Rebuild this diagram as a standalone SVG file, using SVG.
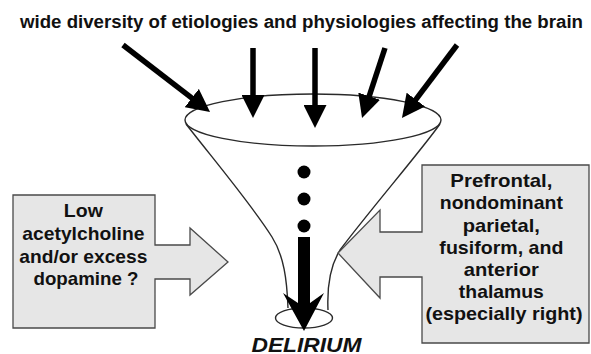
<svg xmlns="http://www.w3.org/2000/svg" width="591" height="354" viewBox="0 0 591 354">
  <style>
    .lbl { font-family: "Liberation Sans", Arial, Helvetica, sans-serif; font-weight: bold; fill: #111; text-anchor: middle; }
    .box { fill: #e6e6e6; stroke: #4a4a4a; stroke-width: 1.3; stroke-linejoin: miter; }
    .funnel { fill: none; stroke: #2a2a2a; stroke-width: 1.4; }
    .flow { stroke: #000; stroke-width: 5.5; fill: none; marker-end: url(#head); }
  </style>
  <defs>
    <marker id="head" markerUnits="userSpaceOnUse" markerWidth="23" markerHeight="23" viewBox="0 0 23 23" refX="1" refY="11.5" orient="auto">
      <path d="M0,0 L23,11.5 L0,23 Z" fill="#000"/>
    </marker>
  </defs>

  <rect width="591" height="354" fill="#fff"/>

  <!-- heading -->
  <g id="title">
    <text class="lbl" x="301.5" y="28" font-size="17.5" textLength="563" lengthAdjust="spacingAndGlyphs">wide diversity of etiologies and physiologies affecting the brain</text>
  </g>

  <!-- funnel: rim, body, neck opening and dots -->
  <g id="funnel">
    <path class="funnel" d="M186,124 C214,160 252,205 272,237 C284,256 287,280 288,308"/>
    <path class="funnel" d="M440,124 C420,152 370,210 340,250 C330,266 327,288 328,310"/>
    <ellipse class="funnel" cx="313" cy="120" rx="128" ry="26" fill="#fff"/>
    <ellipse class="funnel" cx="304" cy="318" rx="28.5" ry="10"/>
    <circle cx="304" cy="172" r="6.5" fill="#000"/>
    <circle cx="304" cy="199" r="6.5" fill="#000"/>
    <circle cx="304" cy="226" r="6.5" fill="#000"/>
  </g>

  <!-- left block arrow -->
  <g id="neurotransmitters">
    <path class="box" d="M13,195 H155 V245 H190 V228 L228,262 L190,295 V279 H155 V328 H13 Z"/>
    <text class="lbl" font-size="19">
      <tspan x="86" y="217" textLength="39" lengthAdjust="spacingAndGlyphs">Low</tspan>
      <tspan x="86" y="240" textLength="122" lengthAdjust="spacingAndGlyphs">acetylcholine</tspan>
      <tspan x="86" y="263" textLength="128" lengthAdjust="spacingAndGlyphs">and/or excess</tspan>
      <tspan x="86" y="285" textLength="105" lengthAdjust="spacingAndGlyphs">dopamine ?</tspan>
    </text>
  </g>

  <!-- right block arrow -->
  <g id="regions">
    <path class="box" d="M422,165 H589 V343 H422 V277 H380 V298 L338,253 L380,210 V232 H422 Z"/>
    <text class="lbl" font-size="19">
      <tspan x="504" y="187" textLength="102" lengthAdjust="spacingAndGlyphs">Prefrontal,</tspan>
      <tspan x="504" y="209" textLength="123" lengthAdjust="spacingAndGlyphs">nondominant</tspan>
      <tspan x="504" y="231.5" textLength="77" lengthAdjust="spacingAndGlyphs">parietal,</tspan>
      <tspan x="504" y="253.5" textLength="124" lengthAdjust="spacingAndGlyphs">fusiform, and</tspan>
      <tspan x="504" y="276" textLength="75" lengthAdjust="spacingAndGlyphs">anterior</tspan>
      <tspan x="504" y="298" textLength="85" lengthAdjust="spacingAndGlyphs">thalamus</tspan>
      <tspan x="504" y="320" textLength="157" lengthAdjust="spacingAndGlyphs">(especially right)</tspan>
    </text>
  </g>

  <!-- outcome label -->
  <g id="delirium">
    <text class="lbl" x="306.5" y="351.5" font-size="21" font-style="italic" textLength="110" lengthAdjust="spacingAndGlyphs">DELIRIUM</text>
  </g>

  <!-- incoming causes and the output arrow -->
  <g id="connectors">
    <line class="flow" x1="123" y1="45" x2="192.6" y2="98.6"/>
    <line class="flow" x1="253" y1="48" x2="253" y2="96"/>
    <line class="flow" x1="315" y1="48" x2="315" y2="106"/>
    <line class="flow" x1="385" y1="48" x2="368.9" y2="97.1"/>
    <line class="flow" x1="457" y1="45" x2="415.2" y2="100.4"/>
    <path d="M298,237 H310 V303 L324,293 L304,331 L283,293 L298,303 Z" fill="#000"/>
  </g>
</svg>
